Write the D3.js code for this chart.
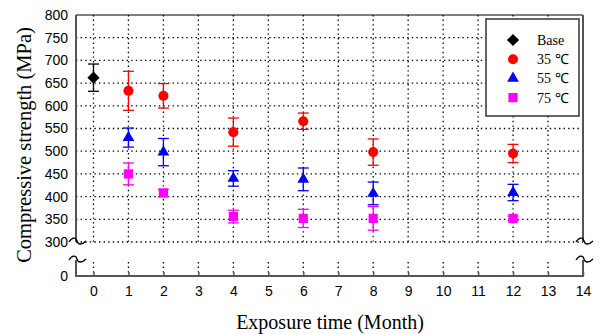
<!DOCTYPE html>
<html><head><meta charset="utf-8">
<script src="https://cdn.jsdelivr.net/npm/d3@7"></script>
<style>body{margin:0;background:#fff}svg{display:block}</style>
</head><body>
<script>
const months = [0, 1, 2, 4, 6, 8, 12];
const baseVal = [662], baseErr = [30];
const m35 = [1, 2, 4, 6, 8, 12];
const v35 = [633, 622, 542, 566, 498, 495];
const e35 = [43, 27, 31, 18, 29, 20];
const v55 = [530, 498, 440, 438, 407, 409];
const e55 = [21, 30, 17, 25, 25, 18];
const v75 = [450, 408, 356, 352, 352, 352];
const e75 = [24, 8, 14, 20, 26, 5];
const xTicks = d3.range(0, 15);
const yTicks = [0, 300, 350, 400, 450, 500, 550, 600, 650, 700, 750, 800];
const yGrid = [300, 350, 400, 450, 500, 550, 600, 650, 700, 750];
const legendLabels = ["Base", "35 \u2103", "55 \u2103", "75 \u2103"];
const colors = ["#000000", "#ff0000", "#0000ff", "#ff00ff"];

const W = 602, H = 334;
const svg = d3.select("body").append("svg").attr("width", W).attr("height", H);
const x = d3.scaleLinear().domain([-0.5, 14]).range([76, 583]);
const y = d3.scaleLinear().domain([0, 300, 800]).range([276, 242, 15]);
const L = 76, R = 583, T = 15, B = 276, brk1 = 241, brk2 = 259;

// gridlines
const g = svg.append("g").attr("stroke", "#000").attr("stroke-width", 1.3).attr("stroke-dasharray", "1.4,3.2");
g.selectAll(".hg").data(yGrid).join("line")
  .attr("x1", L).attr("x2", R).attr("y1", d => y(d)).attr("y2", d => y(d));
g.selectAll(".vg").data(d3.range(0, 14)).join("line")
  .attr("x1", d => x(d)).attr("x2", d => x(d)).attr("y1", T).attr("y2", y(300));
g.selectAll(".vg2").data(d3.range(0, 14)).join("line")
  .attr("x1", d => x(d)).attr("x2", d => x(d)).attr("y1", brk2 + 3).attr("y2", B);

// frame
svg.append("line").attr("x1", L).attr("x2", R).attr("y1", T).attr("y2", T).attr("stroke", "#000").attr("stroke-width", 1);
svg.append("line").attr("x1", L).attr("x2", R).attr("y1", B).attr("y2", B).attr("stroke", "#555").attr("stroke-width", 2);
[L, R].forEach(xx => {
  svg.append("line").attr("x1", xx).attr("x2", xx).attr("y1", T).attr("y2", brk1 + 1).attr("stroke", "#555").attr("stroke-width", 2);
  svg.append("line").attr("x1", xx).attr("x2", xx).attr("y1", brk2 + 1).attr("y2", B + 1).attr("stroke", "#555").attr("stroke-width", 2);
});

// axes
const xAxis = d3.axisBottom(x).tickValues(xTicks).tickSize(-4).tickPadding(10).tickFormat(d3.format("d"));
const xa = svg.append("g").attr("transform", `translate(0,${B})`).call(xAxis);
xa.select(".domain").remove();
xa.selectAll("line").attr("stroke", "#555").attr("stroke-width", 1.5);
xa.selectAll("text").attr("font-family", "Liberation Sans, Arial, sans-serif").attr("font-size", 14).attr("fill", "#000");

const yAxis = d3.axisLeft(y).tickValues(yTicks).tickSize(0).tickPadding(8);
const ya = svg.append("g").attr("transform", `translate(${L},0)`).call(yAxis);
ya.select(".domain").remove();
ya.selectAll("text").attr("font-family", "Liberation Sans, Arial, sans-serif").attr("font-size", 14).attr("fill", "#000");

// break marks
function tilde(cx, cy) {
  const p = d3.path();
  p.moveTo(cx - 8, cy + 1);
  p.bezierCurveTo(cx - 5, cy - 4, cx - 1, cy - 4, cx, cy);
  p.bezierCurveTo(cx + 1, cy + 4, cx + 5, cy + 4, cx + 9, cy);
  return p.toString();
}
[L, R].forEach(xx => {
  [brk1, brk2].forEach(yy => {
    svg.append("path").attr("d", tilde(xx + 1, yy)).attr("fill", "none").attr("stroke", "#000").attr("stroke-width", 1.3);
  });
});

// series
const series = [
  {m: [0], v: baseVal, e: baseErr, c: colors[0], s: d3.symbolDiamond2, size: 95},
  {m: m35, v: v35, e: e35, c: colors[1], s: d3.symbolCircle, size: 80},
  {m: m35, v: v55, e: e55, c: colors[2], s: d3.symbolTriangle, size: 60},
  {m: m35, v: v75, e: e75, c: colors[3], s: d3.symbolSquare, size: 85},
];
series.forEach(S => {
  const data = S.m.map((m, i) => ({m, v: S.v[i], e: S.e[i]}));
  const eg = svg.append("g").attr("stroke", S.c).attr("stroke-width", 1.3);
  data.forEach(d => {
    const cx = x(d.m), y1 = y(d.v + d.e), y2 = y(d.v - d.e);
    eg.append("line").attr("x1", cx).attr("x2", cx).attr("y1", y1).attr("y2", y2);
    eg.append("line").attr("x1", cx - 5.5).attr("x2", cx + 5.5).attr("y1", y1).attr("y2", y1);
    eg.append("line").attr("x1", cx - 5.5).attr("x2", cx + 5.5).attr("y1", y2).attr("y2", y2);
  });
  svg.append("g").selectAll("path").data(data).join("path")
    .attr("d", d3.symbol().type(S.s).size(S.size))
    .attr("transform", d => `translate(${x(d.m)},${y(d.v)})`)
    .attr("fill", S.c);
});

// legend
const lg = svg.append("g");
lg.append("rect").attr("x", 486).attr("y", 19).attr("width", 93).attr("height", 97)
  .attr("fill", "#fff").attr("stroke", "#333").attr("stroke-width", 1.5);
series.forEach((S, i) => {
  const yy = 40 + i * 19.2;
  lg.append("path").attr("d", d3.symbol().type(S.s).size(S.size)).attr("transform", `translate(513,${yy})`).attr("fill", S.c);
  lg.append("text").attr("x", 537).attr("y", yy).attr("dy", "0.35em").text(legendLabels[i])
    .attr("font-family", "Liberation Serif, Times New Roman, serif").attr("font-size", 14);
});

// titles
svg.append("text").attr("x", 330).attr("y", 329).attr("text-anchor", "middle")
  .attr("font-family", "Liberation Serif, Times New Roman, serif").attr("font-size", 20)
  .text("Exposure time (Month)");
svg.append("text").attr("transform", "translate(31,145) rotate(-90)").attr("text-anchor", "middle")
  .attr("font-family", "Liberation Serif, Times New Roman, serif").attr("font-size", 20.5)
  .text("Compressive strength (MPa)");
</script>
</body></html>
